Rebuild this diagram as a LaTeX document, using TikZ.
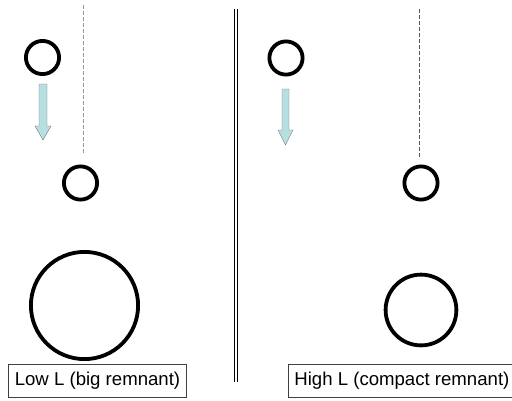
\documentclass[tikz,border=0pt]{standalone}
\usepackage{fontspec}
\setmainfont{Liberation Sans}
\usepackage{tikz}
\definecolor{dropBlue}{HTML}{B7DEE1}
\definecolor{dropGray}{HTML}{7A7A7A}
\definecolor{guideLight}{HTML}{9A9A9A}
\definecolor{guideDark}{HTML}{555555}

\begin{document}
\begin{tikzpicture}[x=1pt,y=-1pt,
    ring/.style={circle, draw=black, line width=3.8pt, inner sep=0pt},
    tagbox/.style={draw=black!75, line width=0.8pt, inner xsep=6pt, inner ysep=0pt, minimum height=33pt, font=\fontsize{18.6}{20}\selectfont},
    guide/.style={dash pattern=on 4pt off 2pt, line width=1pt}]
    \useasboundingbox (0,0) rectangle (512,400);
    % low L side
    \node[ring, minimum size=33.2pt] (ltop) at (42.5,57.5) {};
    \node[ring, minimum size=33.2pt] (lmid) at (80.5,183) {};
    \node[ring, minimum size=107.2pt] (lbig) at (84.5,305.5) {};
    \coordinate (lg1) at (83,5);
    \coordinate (lg2) at (83,154);
    \draw [guide, guideLight] (lg1) -- (lg2);
    \fill [draw=dropGray, fill=dropBlue] (39,84) -- (47,84) -- (47,126) -- (51,126) -- (43,140) -- (35,126) -- (39,126) -- cycle;
    \node[tagbox] (lowL) at (97.5,380.5) {Low L (big remnant)};
    % divider
    \coordinate (d1) at (235.8,9);
    \coordinate (d2) at (235.8,382);
    \draw [double=white, line width=0.9pt, double distance=2pt] (d1) -- (d2);
    % high L side
    \node[ring, minimum size=33.2pt] (rtop) at (286,58) {};
    \node[ring, minimum size=33.2pt] (rmid) at (421,183) {};
    \node[ring, minimum size=70.8pt] (rbig) at (421,310) {};
    \coordinate (rg1) at (419,9);
    \coordinate (rg2) at (419,159);
    \draw [guide, guideDark] (rg1) -- (rg2);
    \fill [draw=dropGray, fill=dropBlue] (282,89) -- (289,89) -- (289,130) -- (293,130) -- (285.5,145) -- (278,130) -- (282,130) -- cycle;
    \node[tagbox, anchor=west] (highL) at (288,380.5) {High L (compact remnant)};
\end{tikzpicture}
\end{document}
